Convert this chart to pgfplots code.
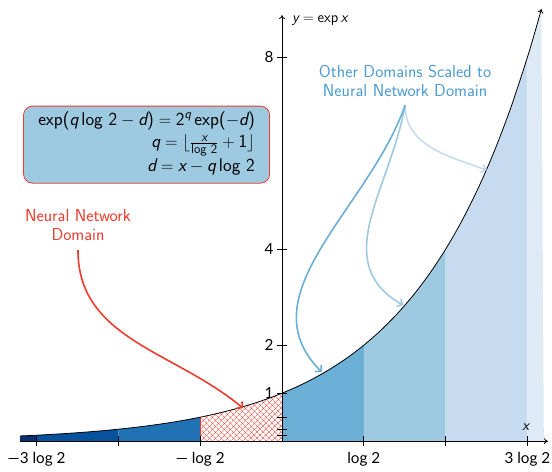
\documentclass[border=0pt]{standalone}
\usepackage{amsmath}
\usepackage{fontspec}
\usepackage{pgfplots}
\pgfplotsset{compat=1.18}
\usepgfplotslibrary{fillbetween}
\usetikzlibrary{patterns.meta,arrows.meta}
\newfontfamily\lato{Lato}
\newcommand\mv[1]{\text{\itshape #1}}
\newcommand\tx[1]{\text{#1}}
\definecolor{cz}{HTML}{08306B}
\definecolor{ca}{HTML}{08519C}
\definecolor{cb}{HTML}{2171B5}
\definecolor{cd}{HTML}{6BAED6}
\definecolor{ce}{HTML}{9ECAE1}
\definecolor{cf}{HTML}{C6DBEF}
\definecolor{cg}{HTML}{DEEBF7}
\definecolor{nnred}{HTML}{EF3B2C}
\definecolor{txtblue}{HTML}{4A9BD0}
\pgfplotstableread{
t y
-3.2 0.108819
-3.0 0.125
-2.8 0.143587
-2.6 0.164938
-2.4 0.189465
-2.2 0.217638
-2.0 0.25
-1.8 0.287175
-1.6 0.329877
-1.4 0.378929
-1.2 0.435275
-1.0 0.5
-0.8 0.574349
-0.6 0.659754
-0.4 0.757858
-0.2 0.870551
0.0 1
0.2 1.148698
0.4 1.319508
0.6 1.515717
0.8 1.741101
1.0 2
1.2 2.297397
1.4 2.639016
1.6 3.031433
1.8 3.482202
2.0 4
2.2 4.594793
2.4 5.278032
2.6 6.062866
2.8 6.964405
3.0 8
3.1 8.574188
3.17 9.0005
}\expcurve
\begin{document}
\begin{tikzpicture}
\sffamily
\begin{axis}[
  x=81.8bp, y=48bp,
  axis lines=middle,
  axis on top,
  clip=false,
  xmin=-3.2, xmax=3.25, ymin=0, ymax=8.875,
  xtick={-3,-2,-1,1,2,3},
  xticklabels={{\lato —3 log 2},{},{\lato — log 2},{\lato log 2},{},{\lato 3 log 2}},
  ytick={0.125,0.25,0.5,1,2,4,8},
  yticklabels={{},{},{},{\lato 1},{\lato 2},{\lato 4},{\lato 8}},
  ticklabel style={font=\fontsize{15.3}{17}\selectfont},
  xticklabel style={yshift=-3bp},
  major tick length=10bp,
  axis line style={line width=0.8pt, -{To[length=4pt,width=6pt]}},
  tick style={black, line width=0.8pt},
]
\addplot[draw=none, name path=curve, smooth] table[x=t,y=y] {\expcurve};
\path[name path=base] (axis cs:-3.2,0) -- (axis cs:3.25,0);
\addplot[fill=cz, draw=none] fill between[of=curve and base, soft clip={domain=-3.2:-3}];
\addplot[fill=ca, draw=none] fill between[of=curve and base, soft clip={domain=-3:-2}];
\addplot[fill=cb, draw=none] fill between[of=curve and base, soft clip={domain=-2:-1}];
\addplot[pattern={Lines[angle=45,distance=4pt,line width=0.6pt]}, pattern color=nnred, draw=none] fill between[of=curve and base, soft clip={domain=-1:0}];
\addplot[pattern={Lines[angle=-45,distance=4pt,line width=0.6pt]}, pattern color=nnred, draw=none] fill between[of=curve and base, soft clip={domain=-1:0}];
\draw[nnred, line width=0.8pt] (axis cs:-1,0) -- (axis cs:-1,0.5);
\addplot[fill=cd, draw=none] fill between[of=curve and base, soft clip={domain=0:1}];
\addplot[fill=ce, draw=none] fill between[of=curve and base, soft clip={domain=1:2}];
\addplot[fill=cf, draw=none] fill between[of=curve and base, soft clip={domain=2:3}];
\addplot[fill=cg, draw=none] fill between[of=curve and base, soft clip={domain=3:3.2}];
\addplot[black, line width=0.8pt, smooth, -{To[length=4pt,width=6pt]}] table[x=t,y=y] {\expcurve};

\node[anchor=west, font=\fontsize{15}{17}\selectfont] at (axis cs:0.08,8.77) {$\mv{y}=\tx{exp}\,\mv{x}$};
\node[font=\fontsize{15}{17}\selectfont] at (axis cs:2.98,0.3) {$\mv{x}$};

\node[draw=nnred, line width=0.8pt, fill=ce, rounded corners=9bp, minimum width=246bp, minimum height=77bp,
  anchor=east, inner xsep=11bp, inner ysep=2bp, font=\fontsize{18.5}{21}\selectfont]
  at (axis cs:-0.147,6.177)
  {\begin{tabular}{@{}r@{}}
   $\tx{exp(}\mv{q}\,\tx{log 2}-\mv{d}\tx{)}=\tx{2}^{\mv{q}}\,\tx{exp(}{-}\mv{d}\tx{)}$\\[1pt]
   $\mv{q}=\lfloor\frac{\mv{x}}{\tx{log 2}}+\tx{1}\rfloor$\\[3pt]
   $\mv{d}=\mv{x}-\mv{q}\,\tx{log 2}$
   \end{tabular}};

\node[nnred, align=center, font=\fontsize{17.4}{19}\selectfont] at (axis cs:-2.494,4.5) {Neural Network\\Domain};
\draw[nnred, line width=1.6pt, -{Straight Barb[length=4pt,width=9pt]}] (axis cs:-2.494,3.98) to[out=-90, in=140] (axis cs:-0.477,0.6875);

\node[txtblue, align=center, font=\fontsize{17.4}{19}\selectfont] at (axis cs:1.504,7.5) {Other Domains Scaled to\\Neural Network Domain};
\draw[cf, line width=1.6pt, -{Straight Barb[length=4pt,width=9pt]}] (axis cs:1.504,7.0) to[out=-90, in=160] (axis cs:2.502,5.646);
\draw[ce, line width=1.6pt, -{Straight Barb[length=4pt,width=9pt]}] (axis cs:1.504,7.0) to[out=-100, in=150, looseness=1.1] (axis cs:1.48,2.833);
\draw[cd, line width=1.6pt, -{Straight Barb[length=4pt,width=9pt]}] (axis cs:1.504,7.0) to[out=-109, in=135, looseness=1.0] (axis cs:0.485,1.443);

\coordinate (BL) at (axis cs:-3.447,-0.625);
\coordinate (TR) at (axis cs:3.30,9.19);
\end{axis}
\pgfresetboundingbox
\path[use as bounding box] (BL) rectangle (TR);
\end{tikzpicture}
\end{document}
